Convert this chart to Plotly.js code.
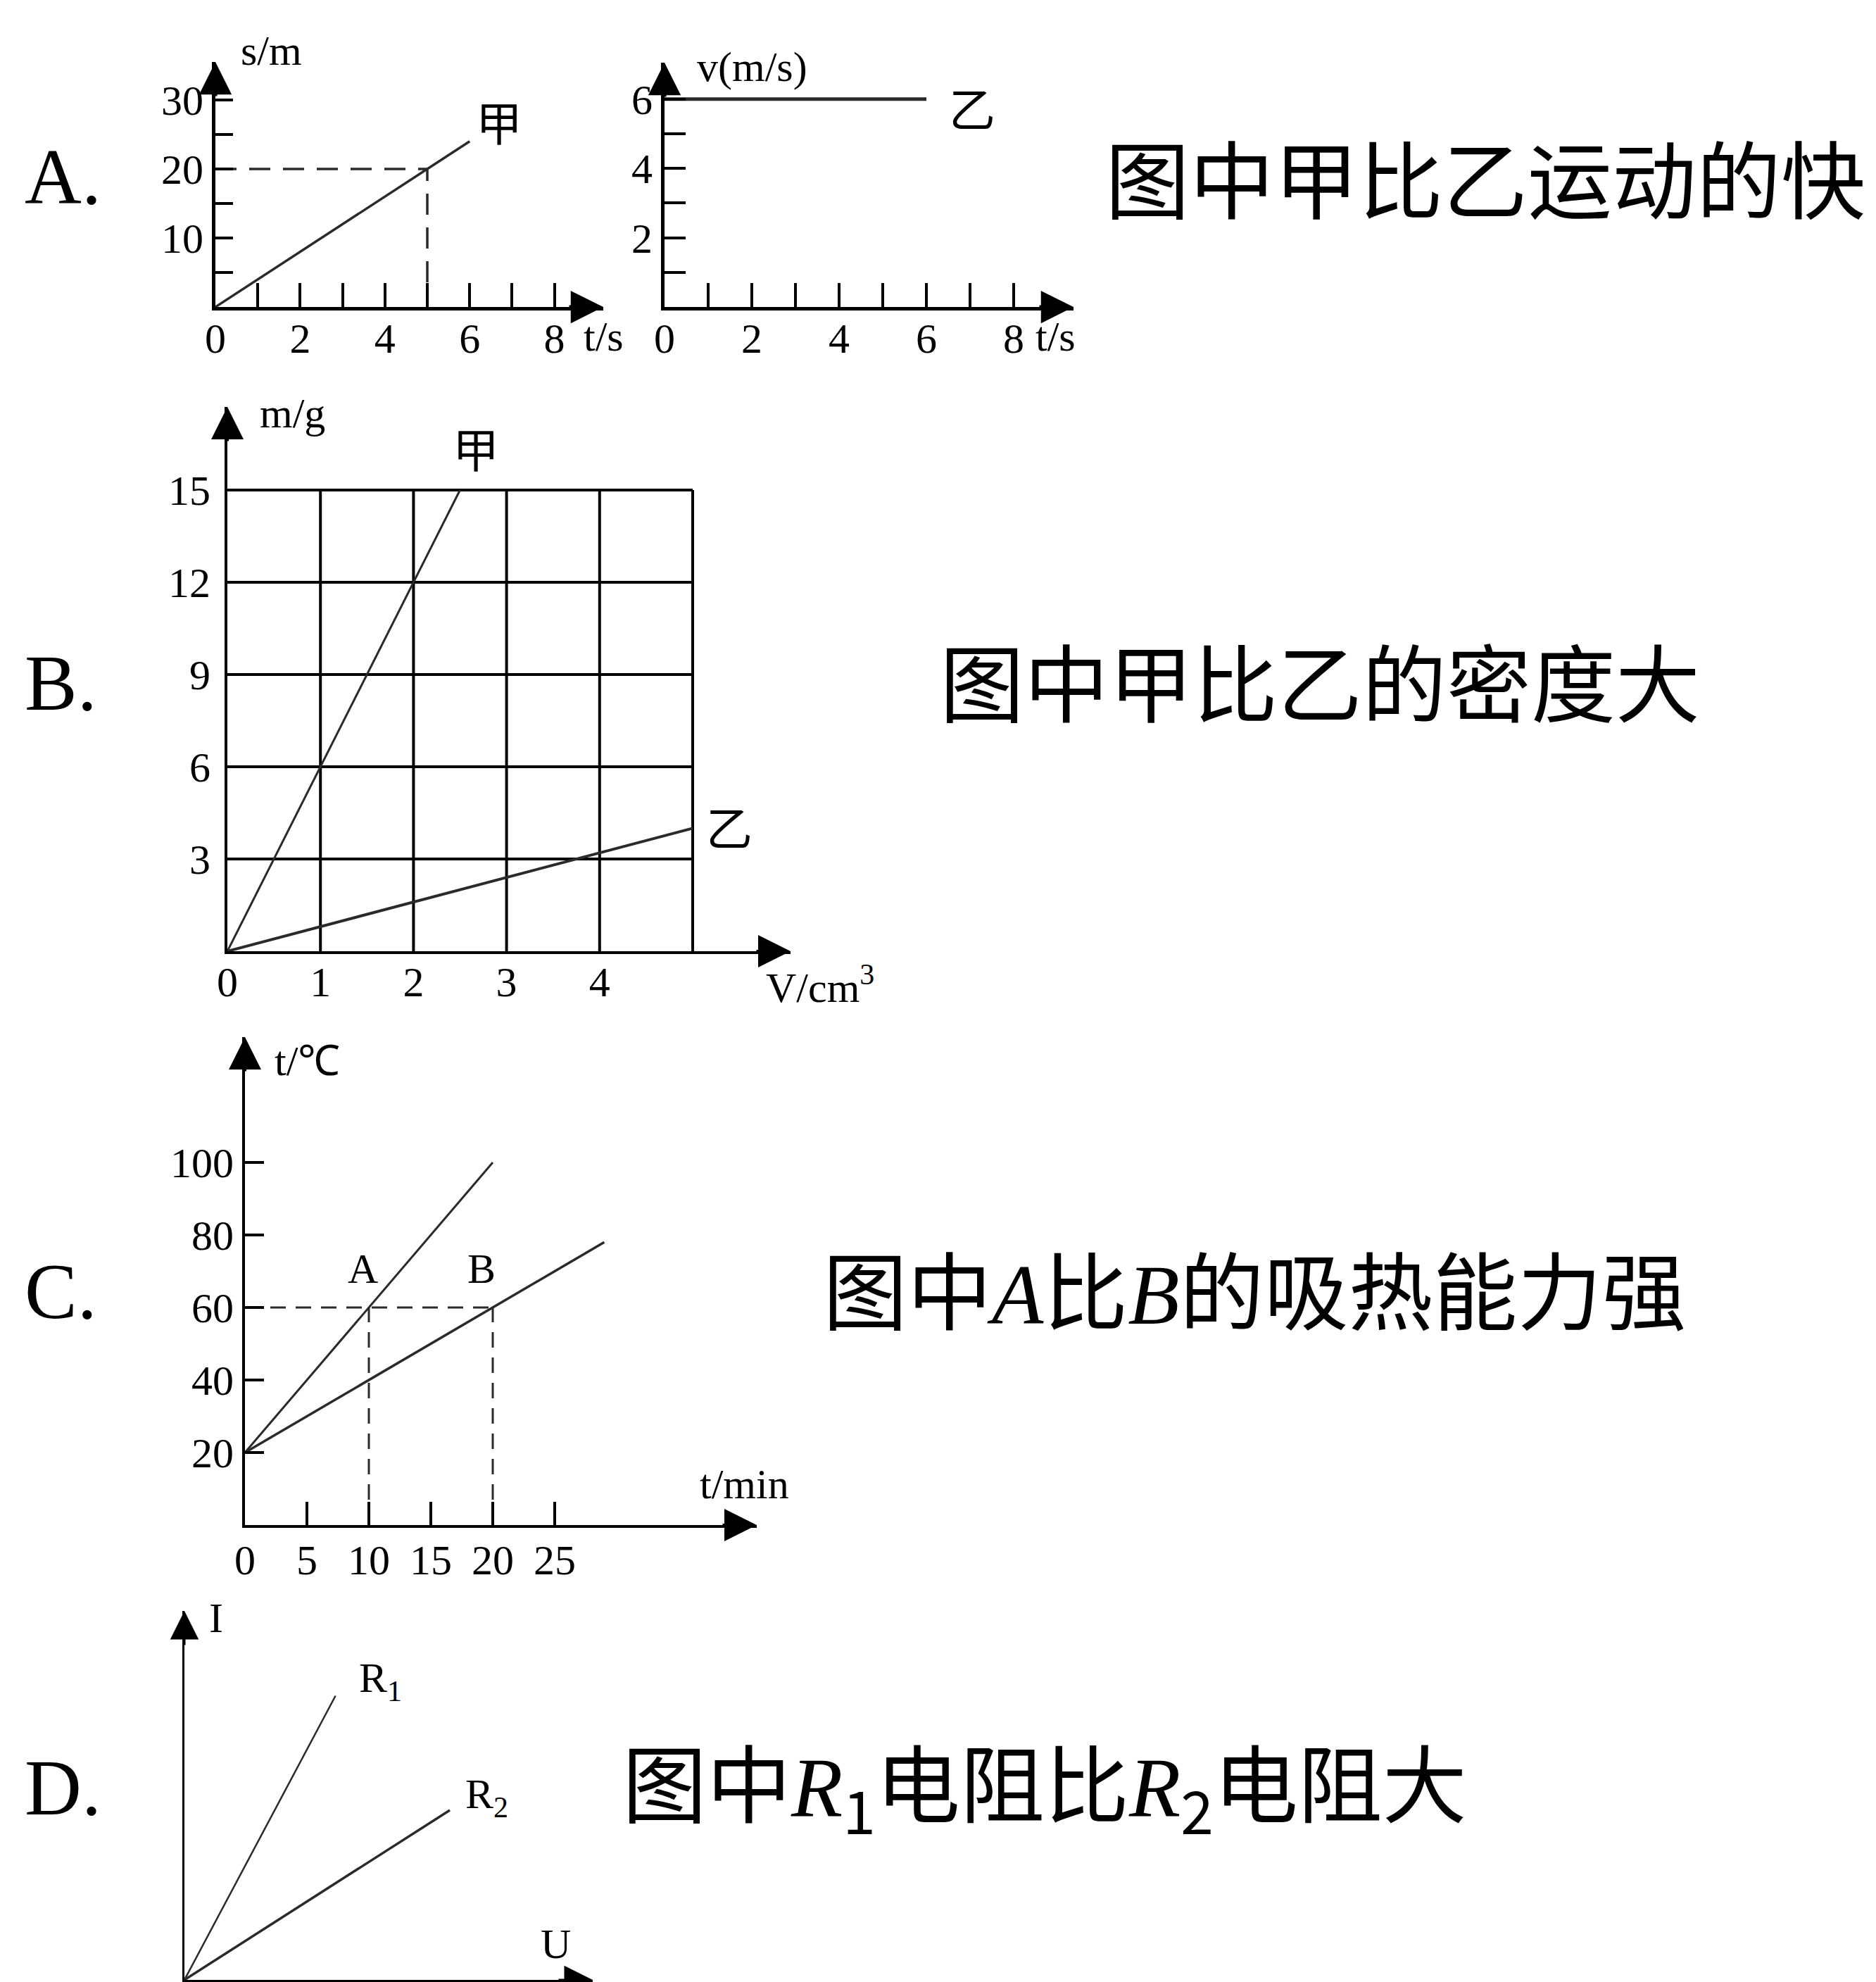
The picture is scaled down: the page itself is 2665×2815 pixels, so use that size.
<!DOCTYPE html>
<html><head><meta charset="utf-8">
<script src="https://cdn.plot.ly/plotly-3.0.1.min.js"></script>
<style>html,body{margin:0;padding:0;background:#fff}</style>
</head><body><div id="chart" style="width:2665px;height:2815px"></div>
<script>
// ---------------- data ----------------
// Panel A, left: s-t graph of 甲
const aJiaT = [0, 6];
const aJiaS = [0, 24];
const aGuideT = [0, 5, 5];
const aGuideS = [20, 20, 0];
// Panel A, right: v-t graph of 乙
const aYiT = [0, 6];
const aYiV = [6, 6];
const aTimeTicks = [0, 1, 2, 3, 4, 5, 6, 7, 8];
const aTimeLabels = ['0', '', '2', '', '4', '', '6', '', '8'];
const aDistTicks = [5, 10, 15, 20, 25, 30];
const aDistLabels = ['', '10', '', '20', '', '30'];
const aSpeedTicks = [1, 2, 3, 4, 5, 6];
const aSpeedLabels = ['', '2', '', '4', '', '6'];

// Panel B: m-V graph
const bJiaV = [0, 2.5];
const bJiaM = [0, 15];
const bYiV = [0, 5];
const bYiM = [0, 4];
const bGridV = [1, 2, 3, 4, 5];
const bGridM = [3, 6, 9, 12, 15];
const bVolTicks = [0, 1, 2, 3, 4];
const bVolLabels = ['0', '1', '2', '3', '4'];
const bMassTicks = [3, 6, 9, 12, 15];
const bMassLabels = ['3', '6', '9', '12', '15'];

// Panel C: temperature-time graph
const cTimeA = [0, 20];
const cTempA = [20, 100];
const cTimeB = [0, 29];
const cTempB = [20, 78];
const cGuideTime = [0, 20, null, 10, 10, null, 20, 20];
const cGuideTemp = [60, 60, null, 0, 60, null, 0, 60];
const cTimeTicks = [0, 5, 10, 15, 20, 25];
const cTimeLabels = ['0', '5', '10', '15', '20', '25'];
const cTempTicks = [20, 40, 60, 80, 100];
const cTempLabels = ['20', '40', '60', '80', '100'];

// Panel D: I-U graph
const dR1U = [0, 3.7];
const dR1I = [0, 7.7];
const dR2U = [0, 6.5];
const dR2I = [0, 4.6];

// ---------------- layout helpers ----------------
const W = 2665, H = 2815;
const SERIF = 'Liberation Serif, Times New Roman, serif';
const CJK = 'Noto Sans CJK SC, sans-serif';
const INK = '#000';
const LINE = '#2a2a2a';

function xAx(origin, s, tip, anchor, extra) {
  return Object.assign({
    domain: [origin / W, tip / W], range: [0, (tip - origin) / s], anchor: anchor,
    showline: true, linecolor: INK, linewidth: 5, showgrid: false, zeroline: false,
    ticks: 'inside', tickcolor: INK, tickwidth: 4, ticklen: 34,
    tickfont: {family: SERIF, size: 60, color: INK}, tickmode: 'array',
    fixedrange: true
  }, extra || {});
}
function yAx(origin, s, tip, anchor, extra) {
  return Object.assign({
    domain: [1 - origin / H, 1 - tip / H], range: [0, (origin - tip) / s], anchor: anchor,
    showline: true, linecolor: INK, linewidth: 5, showgrid: false, zeroline: false,
    ticks: 'inside', tickcolor: INK, tickwidth: 4, ticklen: 26,
    tickfont: {family: SERIF, size: 60, color: INK}, tickmode: 'array',
    fixedrange: true
  }, extra || {});
}
function arrowUp(xr, yr, x, y, w, sz) {
  return {xref: xr, yref: yr, x: x, y: y, ax: 0, ay: 50, text: '', showarrow: true,
          arrowhead: 2, arrowsize: sz, arrowwidth: w, arrowcolor: INK, standoff: 0};
}
function arrowRight(xr, yr, x, y, w, sz) {
  return {xref: xr, yref: yr, x: x, y: y, ax: -50, ay: 0, text: '', showarrow: true,
          arrowhead: 2, arrowsize: sz, arrowwidth: w, arrowcolor: INK, standoff: 0};
}
function label(xr, yr, x, y, text, size, family) {
  return {xref: xr, yref: yr, x: x, y: y, text: text, showarrow: false,
          xanchor: 'center', yanchor: 'middle',
          font: {family: family || SERIF, size: size || 60, color: INK}};
}
function paperLabel(px, py, text, size) {
  return {xref: 'paper', yref: 'paper', x: px / W, y: 1 - py / H, text: text, showarrow: false,
          xanchor: 'center', yanchor: 'middle',
          font: {family: SERIF, size: size || 60, color: INK}};
}
function paperText(px, py, text, size, family) {
  return {xref: 'paper', yref: 'paper', x: px / W, y: 1 - py / H, text: text, showarrow: false,
          xanchor: 'left', yanchor: 'middle',
          font: {family: family, size: size, color: INK}};
}

// axis geometry (pixel origin, px per unit, pixel of arrow tip)
const layout = {
  width: W, height: H, margin: {l: 0, r: 0, t: 0, b: 0},
  paper_bgcolor: '#fff', plot_bgcolor: 'rgba(0,0,0,0)', showlegend: false,
  // A left
  xaxis: xAx(306, 60.2, 857, 'y', {tickvals: aTimeTicks, ticktext: aTimeLabels, ticklabelstandoff: -12}),
  yaxis: yAx(436, 9.8, 88, 'x', {tickvals: aDistTicks, ticktext: aDistLabels, ticklen: 25}),
  // A right
  xaxis2: xAx(944, 62, 1525, 'y2', {tickvals: aTimeTicks, ticktext: aTimeLabels, ticklabelstandoff: -12}),
  yaxis2: yAx(436, 49.2, 89, 'x2', {tickvals: aSpeedTicks, ticktext: aSpeedLabels, ticklen: 30}),
  // B
  xaxis3: xAx(323, 132.2, 1123, 'y3', {tickvals: bVolTicks, ticktext: bVolLabels, ticks: '', linewidth: 4, ticklabelstandoff: -12}),
  yaxis3: yAx(1351, 43.67, 578, 'x3', {tickvals: bMassTicks, ticktext: bMassLabels, ticks: '', linewidth: 4, ticklabelstandoff: 8}),
  // C
  xaxis4: xAx(348, 17.6, 1075, 'y4', {tickvals: cTimeTicks, ticktext: cTimeLabels, ticklen: 33, linewidth: 4, ticklabelstandoff: -6}),
  yaxis4: yAx(2166, 5.15, 1473, 'x4', {tickvals: cTempTicks, ticktext: cTempLabels, ticklen: 27, linewidth: 4}),
  // D
  xaxis5: xAx(262, 58, 842, 'y5', {showticklabels: false, ticks: '', linewidth: 3}),
  yaxis5: yAx(2812, 52.4, 2288, 'x5', {showticklabels: false, ticks: '', linewidth: 3}),
  shapes: [],
  annotations: []
};

// grid of panel B
bGridV.forEach(v => layout.shapes.push({type: 'line', xref: 'x3', yref: 'y3', x0: v, x1: v, y0: 0, y1: bGridM[bGridM.length - 1], line: {color: INK, width: 4}, layer: 'below'}));
bGridM.forEach(m => layout.shapes.push({type: 'line', xref: 'x3', yref: 'y3', x0: 0, x1: bGridV[bGridV.length - 1], y0: m, y1: m, line: {color: INK, width: 4}, layer: 'below'}));

const ann = layout.annotations;
// axis arrows
ann.push(arrowUp('x', 'y', 0, layout.yaxis.range[1], 5, 1.85), arrowRight('x', 'y', layout.xaxis.range[1], 0, 5, 1.85));
ann.push(arrowUp('x2', 'y2', 0, layout.yaxis2.range[1], 5, 1.85), arrowRight('x2', 'y2', layout.xaxis2.range[1], 0, 5, 1.85));
ann.push(arrowUp('x3', 'y3', 0, layout.yaxis3.range[1], 4, 2.3), arrowRight('x3', 'y3', layout.xaxis3.range[1], 0, 4, 2.3));
ann.push(arrowUp('x4', 'y4', 0, layout.yaxis4.range[1], 4, 2.3), arrowRight('x4', 'y4', layout.xaxis4.range[1], 0, 4, 2.3));
ann.push(arrowUp('x5', 'y5', 0, layout.yaxis5.range[1], 3, 2.7), arrowRight('x5', 'y5', layout.xaxis5.range[1], 0, 3, 2.7));

// axis titles & curve labels
ann.push(paperLabel(385, 72, 's/m'));
ann.push(paperLabel(857, 478, 't/s'));
ann.push(label('x', 'y', 6.7, 27, '甲', 66, CJK));
ann.push(label('x2', 'y2', 2.0, 6.93, 'v(m/s)'));
ann.push(paperLabel(1499, 478, 't/s'));
ann.push(label('x2', 'y2', 7.05, 5.8, '乙', 66, CJK));
ann.push(label('x3', 'y3', 0.7, 17.5, 'm/g'));
ann.push(paperLabel(1165, 1398, 'V/cm<sup>3</sup>'));
ann.push(label('x3', 'y3', 2.67, 16.4, '甲', 66, CJK));
ann.push(label('x3', 'y3', 5.39, 4.1, '乙', 66, CJK));
ann.push(label('x4', 'y4', 5.0, 128, 't/℃'));
ann.push(label('x4', 'y4', 40.3, 11.3, 't/min'));
ann.push(label('x4', 'y4', 9.5, 70.7, 'A', 60));
ann.push(label('x4', 'y4', 19.1, 70.7, 'B', 60));
ann.push(label('x5', 'y5', 0.78, 9.8, 'I'));
ann.push(label('x5', 'y5', 9.1, 0.97, 'U'));
ann.push(label('x5', 'y5', 4.8, 8.1, 'R<sub>1</sub>'));
ann.push(label('x5', 'y5', 7.4, 4.95, 'R<sub>2</sub>'));

// option letters
ann.push(paperText(33, 251, 'A.', 112, SERIF));
ann.push(paperText(33, 970, 'B.', 112, SERIF));
ann.push(paperText(33, 1834, 'C.', 112, SERIF));
ann.push(paperText(33, 2539, 'D.', 112, SERIF));

// statements
const it = t => '<span style="font-family:Liberation Serif"><i>' + t + '</i></span>';
ann.push(paperText(1568, 250, '图中甲比乙运动的快', 120, CJK));
ann.push(paperText(1333, 965, '图中甲比乙的密度大', 120, CJK));
ann.push(paperText(1167, 1828, '图中' + it('A') + '比' + it('B') + '的吸热能力强', 120, CJK));
ann.push(paperText(882, 2535, '图中' + it('R') + '<sub>1</sub>电阻比' + it('R') + '<sub>2</sub>电阻大', 120, CJK));

// ---------------- traces ----------------
const lineStyle = (w, dash) => ({color: LINE, width: w, dash: dash || 'solid'});
const traces = [
  {x: aJiaT, y: aJiaS, xaxis: 'x', yaxis: 'y', mode: 'lines', line: lineStyle(3.5)},
  {x: aGuideT, y: aGuideS, xaxis: 'x', yaxis: 'y', mode: 'lines', line: lineStyle(3.5, '30px,18px')},
  {x: aYiT, y: aYiV, xaxis: 'x2', yaxis: 'y2', mode: 'lines', line: lineStyle(5)},
  {x: bJiaV, y: bJiaM, xaxis: 'x3', yaxis: 'y3', mode: 'lines', line: lineStyle(3)},
  {x: bYiV, y: bYiM, xaxis: 'x3', yaxis: 'y3', mode: 'lines', line: lineStyle(4)},
  {x: cTimeA, y: cTempA, xaxis: 'x4', yaxis: 'y4', mode: 'lines', line: lineStyle(3)},
  {x: cTimeB, y: cTempB, xaxis: 'x4', yaxis: 'y4', mode: 'lines', line: lineStyle(3.5)},
  {x: cGuideTime, y: cGuideTemp, xaxis: 'x4', yaxis: 'y4', mode: 'lines', connectgaps: false, line: lineStyle(3, '22px,14px')},
  {x: dR1U, y: dR1I, xaxis: 'x5', yaxis: 'y5', mode: 'lines', line: lineStyle(2.5)},
  {x: dR2U, y: dR2I, xaxis: 'x5', yaxis: 'y5', mode: 'lines', line: lineStyle(3.5)}
];
traces.forEach(t => { t.hoverinfo = 'skip'; t.cliponaxis = false; });

Plotly.newPlot('chart', traces, layout, {staticPlot: true, displayModeBar: false});
</script></body></html>
